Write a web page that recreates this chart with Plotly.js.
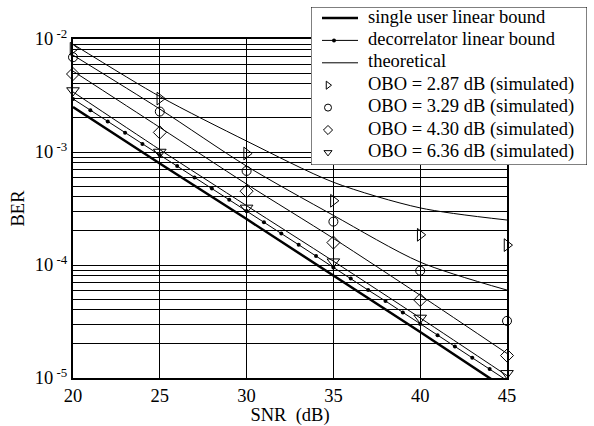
<!DOCTYPE html>
<html><head><meta charset="utf-8">
<script src="https://cdn.plot.ly/plotly-3.0.1.min.js"></script>
<style>html,body{margin:0;padding:0;background:#fff}#chart{width:594px;height:426px}</style>
</head><body><div id="chart"></div>
<script>
// ---- data ----
const snr5 = [20, 25, 30, 35, 40, 45];
const snr1 = [20,21,22,23,24,25,26,27,28,29,30,31,32,33,34,35,36,37,38,39,40,41,42,43,44,45];

const singleUser = [2.5e-3, 7.9e-4, 2.55e-4, 8.1e-5, 2.55e-5, 7.9e-6];
const decorrelator = [2.95e-3,2.34e-3,1.86e-3,1.48e-3,1.18e-3,9.4e-4,7.5e-4,5.95e-4,4.75e-4,3.78e-4,
                      3.0e-4,2.39e-4,1.9e-4,1.51e-4,1.2e-4,9.5e-5,7.6e-5,6.0e-5,4.8e-5,3.8e-5,
                      3.0e-5,2.39e-5,1.9e-5,1.51e-5,1.2e-5,9.5e-6];

const theoOBO287 = [9.0e-3, 3.1e-3, 1.25e-3, 5.4e-4, 3.2e-4, 2.5e-4];
const theoOBO329 = [7.2e-3, 2.4e-3, 7.5e-4, 2.75e-4, 1.06e-4, 6.0e-5];
const theoOBO430 = [5.2e-3, 1.65e-3, 5.2e-4, 1.72e-4, 5.4e-5, 1.65e-5];
const theoOBO636 = [3.4e-3, 1.05e-3, 3.35e-4, 1.08e-4, 3.4e-5, 1.05e-5];

const simOBO287 = [8.2e-3, 2.97e-3, 9.7e-4, 3.7e-4, 1.85e-4, 1.5e-4];
const simOBO329 = [6.9e-3, 2.28e-3, 6.8e-4, 2.42e-4, 8.9e-5, 3.2e-5];
const simOBO430 = [4.9e-3, 1.49e-3, 4.5e-4, 1.58e-4, 4.9e-5, 1.58e-5];
const simOBO636 = [3.5e-3, 1.0e-3, 3.2e-4, 1.07e-4, 3.4e-5, 1.1e-5];

const xTicks = [20, 25, 30, 35, 40, 45];
const yDecades = [1e-5, 1e-4, 1e-3, 1e-2];
const yDecadeLabels = ['10<sup> -5</sup>', '10<sup> -4</sup>', '10<sup> -3</sup>', '10<sup> -2</sup>'];
const mantissas = [2, 3, 4, 5, 6, 7, 8, 9];

const legendLabels = ['single user linear bound', 'decorrelator linear bound', 'theoretical',
  'OBO = 2.87 dB (simulated)', 'OBO = 3.29 dB (simulated)',
  'OBO = 4.30 dB (simulated)', 'OBO = 6.36 dB (simulated)'];

// ---- layout geometry (pixels) ----
const W = 594, H = 426;
const plotL = 73, plotR = 507, plotT = 39, plotB = 378;
const legL = 311, legR = 587, legT = 7, legB = 165;
const mL = plotL, mR = W - legR, mT = legT, mB = H - plotB;
const paperW = W - mL - mR, paperH = H - mT - mB;
const legW = legR - legL, legH = legB - legT;
const rowY = [11, 33.4, 55.8, 78.2, 100.6, 123, 145.4];
const sampleX0 = 11, sampleX1 = 47, markX = 17, textX = 57;

const minorGrid = [];
[1e-5, 1e-4, 1e-3].forEach(d => mantissas.forEach(m => minorGrid.push(m * d)));

const FONT = 'Liberation Serif, Times New Roman, serif';
const FS = 18.5;
const BLACK = 'black';

function theo(y) {
  return {x: snr5, y: y, type: 'scatter', mode: 'lines', showlegend: false, hoverinfo: 'skip',
          line: {color: BLACK, width: 1, shape: 'spline', smoothing: 0.8}};
}
function sim(y, sym, size) {
  return {x: snr5, y: y, type: 'scatter', mode: 'markers', showlegend: false, cliponaxis: false,
          hoverinfo: 'skip', marker: {symbol: sym, size: size, color: BLACK, line: {color: BLACK, width: 1}}};
}

const traces = [
  {x: snr5, y: singleUser, type: 'scatter', mode: 'lines', showlegend: false, hoverinfo: 'skip',
   line: {color: BLACK, width: 2.5}},
  {x: snr1, y: decorrelator, type: 'scatter', mode: 'lines+markers', showlegend: false, hoverinfo: 'skip',
   line: {color: BLACK, width: 1}, marker: {symbol: 'circle', size: 4, color: BLACK}},
  theo(theoOBO287), theo(theoOBO329), theo(theoOBO430), theo(theoOBO636),
  sim(simOBO287, 'triangle-right-open', 11),
  sim(simOBO329, 'circle-open', 9),
  sim(simOBO430, 'diamond-open', 10),
  sim(simOBO636, 'triangle-down-open', 11)
];

// ---- custom legend on an overlay subplot (pixel units) ----
const L = {xaxis: 'x2', yaxis: 'y2', showlegend: false, hoverinfo: 'skip', cliponaxis: false};
traces.push(Object.assign({x: [0, legW, legW, 0, 0], y: [0, 0, legH, legH, 0], type: 'scatter', mode: 'lines',
  fill: 'toself', fillcolor: 'white', line: {color: BLACK, width: 1}}, L));
traces.push(Object.assign({x: [sampleX0, sampleX1], y: [rowY[0], rowY[0]], type: 'scatter', mode: 'lines',
  line: {color: BLACK, width: 2.5}}, L));
traces.push(Object.assign({x: [sampleX0, sampleX1], y: [rowY[1], rowY[1]], type: 'scatter', mode: 'lines',
  line: {color: BLACK, width: 1}}, L));
traces.push(Object.assign({x: [(sampleX0 + sampleX1) / 2 - 6], y: [rowY[1]], type: 'scatter', mode: 'markers',
  marker: {symbol: 'circle', size: 4, color: BLACK}}, L));
traces.push(Object.assign({x: [sampleX0, sampleX1], y: [rowY[2], rowY[2]], type: 'scatter', mode: 'lines',
  line: {color: BLACK, width: 1}}, L));
const legSyms = ['triangle-right-open', 'circle-open', 'diamond-open', 'triangle-down-open'];
traces.push(Object.assign({x: legSyms.map(() => markX), y: rowY.slice(3), type: 'scatter', mode: 'markers',
  marker: {symbol: legSyms, size: 7, color: BLACK, line: {color: BLACK, width: 1}}}, L));
traces.push(Object.assign({x: legendLabels.map(() => textX), y: rowY, text: legendLabels, type: 'scatter',
  mode: 'text', textposition: 'middle right', textfont: {family: FONT, size: FS, color: BLACK}}, L));

const layout = {
  width: W, height: H,
  margin: {l: mL, r: mR, t: mT, b: mB, pad: 0},
  paper_bgcolor: 'white', plot_bgcolor: 'white',
  font: {family: FONT, size: FS, color: BLACK},
  showlegend: false,
  xaxis: {
    domain: [0, (plotR - plotL) / paperW],
    range: [20, 45], tickmode: 'array', tickvals: xTicks, ticktext: xTicks.map(String),
    showgrid: true, gridcolor: BLACK, gridwidth: 1, zeroline: false,
    showline: true, linecolor: BLACK, linewidth: 2, mirror: true, ticks: '',
    tickfont: {family: FONT, size: FS, color: BLACK},
    title: {text: 'SNR  (dB)', font: {family: FONT, size: FS, color: BLACK}, standoff: 6}
  },
  yaxis: {
    domain: [0, (plotB - plotT) / paperH],
    type: 'log', range: [-5, -2], tickmode: 'array', tickvals: yDecades, ticktext: yDecadeLabels,
    showgrid: true, gridcolor: BLACK, gridwidth: 1, zeroline: false,
    showline: true, linecolor: BLACK, linewidth: 2, mirror: true, ticks: '',
    minor: {tickmode: 'array', tickvals: minorGrid, showgrid: true, gridcolor: BLACK, gridwidth: 1, ticks: ''},
    tickfont: {family: FONT, size: FS, color: BLACK},
    title: {text: 'BER', font: {family: FONT, size: FS, color: BLACK}, standoff: 5}
  },
  xaxis2: {domain: [(legL - plotL) / paperW, 1], range: [0, legW], anchor: 'y2', visible: false, fixedrange: true},
  yaxis2: {domain: [(plotB - legB) / paperH, 1], range: [legH, 0], anchor: 'x2', visible: false, fixedrange: true}
};

Plotly.newPlot('chart', traces, layout, {displayModeBar: false, staticPlot: true});
</script>
</body></html>
